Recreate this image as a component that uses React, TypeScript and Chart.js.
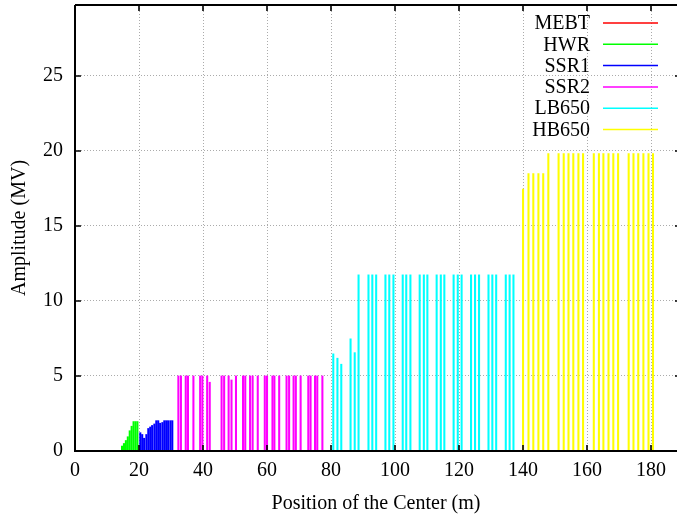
import React, { useEffect, useRef } from 'react';
import { Chart, registerables } from 'chart.js';

Chart.register(...registerables);

// ---- data ----
const seriesNames = ['MEBT', 'HWR', 'SSR1', 'SSR2', 'LB650', 'HB650'];
const seriesColors = ['#ff0000', '#00ff00', '#0000ff', '#ff00ff', '#00ffff', '#ffff00'];

const mebtPos = [1.2, 2.5, 3.8];
const mebtAmp = [0.04, 0.04, 0.04];

const hwrPos = [14.7, 15.3, 15.9, 16.5, 17.1, 17.7, 18.3, 18.9, 19.5];
const hwrAmp = [0.33, 0.5, 0.7, 0.95, 1.35, 1.65, 1.96, 1.96, 1.96];

const ssr1Pos = [20.4, 21.0, 21.6, 22.3, 22.9, 23.5, 24.1, 24.8, 25.4, 26.0, 26.6, 27.3, 27.9, 28.5, 29.1, 29.8, 30.4];
const ssr1Amp = [1.22, 1.1, 0.85, 1.1, 1.5, 1.6, 1.7, 1.8, 2.02, 2.02, 1.85, 1.9, 2.02, 2.02, 2.02, 2.02, 2.02];

const ssr2Pos = [
  32.3, 33.1, 34.6, 35.3, 37.0,
  39.1, 39.8, 41.3, 42.1,
  45.8, 46.6, 48.0, 48.9, 50.3,
  52.5, 53.2, 54.7, 55.5, 57.1,
  59.3, 60.0, 61.7, 62.3, 63.8,
  66.1, 66.9, 68.3, 69.0, 70.5,
  72.9, 73.6, 75.0, 75.7, 77.3,
];
const ssr2Amp = [
  5.0, 5.0, 5.0, 5.0, 5.0,
  5.0, 5.0, 5.0, 4.58,
  5.0, 5.0, 5.0, 4.73, 5.0,
  5.0, 5.0, 5.0, 5.0, 5.0,
  5.0, 5.0, 5.0, 5.0, 5.0,
  5.0, 5.0, 5.0, 5.0, 5.0,
  5.0, 5.0, 5.0, 5.0, 5.0,
];

const lb650Pos = [
  80.7, 82.0, 83.2, 86.1, 87.4, 88.6, 91.7, 92.9, 94.1, 97.0, 98.2, 99.5,
  102.4, 103.5, 104.8, 107.7, 109.0, 110.1, 113.0, 114.3, 115.4, 118.3, 119.6, 120.8,
  123.75, 125.0, 126.25, 129.2, 130.4, 131.6, 134.6, 135.8, 137.0,
];
const lb650Amp = [
  6.47, 6.18, 5.78, 7.47, 6.55, 11.73, 11.73, 11.73, 11.73, 11.73, 11.73, 11.73,
  11.73, 11.73, 11.73, 11.73, 11.73, 11.73, 11.73, 11.73, 11.73, 11.73, 11.73, 11.73,
  11.73, 11.73, 11.73, 11.73, 11.73, 11.73, 11.73, 11.73, 11.73,
];

const hb650Pos = [
  140.0, 141.7, 143.2, 144.8, 146.3, 147.9,
  151.1, 152.7, 154.2, 155.7, 157.3, 158.75,
  162.1, 163.7, 165.1, 166.7, 168.2, 169.7,
  173.0, 174.5, 176.0, 177.6, 179.2, 180.6,
];
const hb650Amp = [
  17.45, 18.47, 18.47, 18.47, 18.47, 19.8,
  19.8, 19.8, 19.8, 19.8, 19.8, 19.8,
  19.8, 19.8, 19.8, 19.8, 19.8, 19.8,
  19.8, 19.8, 19.8, 19.8, 19.8, 19.8,
];

const xTicks = [0, 20, 40, 60, 80, 100, 120, 140, 160, 180];
const yTicks = [0, 5, 10, 15, 20, 25];
const xMin = 0;
const xMax = 188.1;
const yMin = 0;
const yMax = 29.7;

const xTitle = 'Position of the Center (m)';
const yTitle = 'Amplitude (MV)';

const allPos = [mebtPos, hwrPos, ssr1Pos, ssr2Pos, lb650Pos, hb650Pos];
const allAmp = [mebtAmp, hwrAmp, ssr1Amp, ssr2Amp, lb650Amp, hb650Amp];

const FONT = "'Liberation Serif', 'DejaVu Serif', serif";

const framePlugin = {
  id: 'gnuFrame',
  afterDatasetsDraw(chart: any) {
    const { ctx, chartArea, scales } = chart;
    const { left, right, top, bottom } = chartArea;
    const x = scales.x;
    const y = scales.y;
    ctx.save();
    ctx.strokeStyle = '#000';
    ctx.lineWidth = 2;
    ctx.beginPath();
    ctx.moveTo(left, top);
    ctx.lineTo(right + 2, top);
    ctx.moveTo(left, top);
    ctx.lineTo(left, bottom);
    ctx.lineTo(right + 2, bottom);
    ctx.stroke();
    ctx.lineWidth = 1.6;
    ctx.beginPath();
    for (const v of xTicks) {
      const px = Math.round(x.getPixelForValue(v));
      ctx.moveTo(px, bottom);
      ctx.lineTo(px, bottom - 6);
      ctx.moveTo(px, top);
      ctx.lineTo(px, top + 6);
    }
    for (const v of yTicks) {
      const py = Math.round(y.getPixelForValue(v));
      ctx.moveTo(left, py);
      ctx.lineTo(left + 6, py);
      ctx.moveTo(right, py);
      ctx.lineTo(right - 2, py);
    }
    ctx.stroke();
    ctx.restore();
  },
  afterDraw(chart: any) {
    const { ctx, chartArea } = chart;
    const textRight = chartArea.right - 87;
    const lineStart = chartArea.right - 74;
    const lineEnd = chartArea.right - 19;
    const y0 = chartArea.top + 18;
    const step = 21.3;
    ctx.save();
    ctx.font = `20px ${FONT}`;
    ctx.textAlign = 'right';
    ctx.textBaseline = 'middle';
    chart.data.datasets.forEach((ds: any, i: number) => {
      const yy = y0 + i * step;
      ctx.fillStyle = '#000';
      ctx.fillText(ds.label, textRight, yy + 1);
      ctx.strokeStyle = ds.backgroundColor;
      ctx.lineWidth = 1.5;
      ctx.beginPath();
      ctx.moveTo(lineStart, yy);
      ctx.lineTo(lineEnd, yy);
      ctx.stroke();
    });
    ctx.restore();
  },
};

export default function App() {
  const canvasRef = useRef<HTMLCanvasElement | null>(null);

  useEffect(() => {
    document.body.style.margin = '0';
    const canvas = canvasRef.current;
    if (!canvas) return;
    Chart.defaults.font.family = FONT;
    Chart.defaults.font.size = 20;
    Chart.defaults.color = '#000';

    const datasets = seriesNames.map((name, i) => ({
      label: name,
      data: allPos[i].map((p, j) => ({ x: p, y: allAmp[i][j] })),
      backgroundColor: seriesColors[i],
      borderWidth: 0,
      barThickness: 1.4,
      grouped: false,
    }));

    const chart = new Chart(canvas, {
      type: 'bar',
      data: { datasets },
      plugins: [framePlugin],
      options: {
        responsive: false,
        animation: false,
        events: [],
        layout: { padding: { top: 5, left: 0, right: 0, bottom: 0 } },
        plugins: {
          legend: { display: false },
          tooltip: { enabled: false },
        },
        scales: {
          x: {
            type: 'linear',
            min: xMin,
            max: xMax,
            offset: false,
            afterBuildTicks: (scale: any) => {
              scale.ticks = xTicks.map((v) => ({ value: v }));
            },
            afterFit: (scale: any) => {
              scale.height = 67;
              scale.paddingLeft = 0;
              scale.paddingRight = 0;
            },
            grid: {
              offset: false,
              color: '#ababab',
              lineWidth: 1,
              drawTicks: false,
            },
            border: { display: false, dash: [1, 2] },
            ticks: {
              padding: 8,
              maxRotation: 0,
              autoSkip: false,
              font: { size: 20, family: FONT },
              color: '#000',
            },
            title: {
              display: true,
              text: xTitle,
              font: { size: 20, family: FONT },
              color: '#000',
              padding: { top: 0, bottom: 2 },
            },
          },
          y: {
            type: 'linear',
            min: yMin,
            max: yMax,
            afterBuildTicks: (scale: any) => {
              scale.ticks = yTicks.map((v) => ({ value: v }));
            },
            afterFit: (scale: any) => {
              scale.width = 75;
              scale.paddingTop = 0;
              scale.paddingBottom = 0;
            },
            grid: {
              color: '#ababab',
              lineWidth: 1,
              drawTicks: false,
            },
            border: { display: false, dash: [1, 2] },
            ticks: {
              padding: 12,
              font: { size: 20, family: FONT },
              color: '#000',
            },
            title: {
              display: true,
              text: yTitle,
              font: { size: 20, family: FONT },
              color: '#000',
              padding: { top: 8, bottom: 0 },
            },
          },
        },
      },
    } as any);

    return () => {
      chart.destroy();
    };
  }, []);

  return (
    <div style={{ width: 677, height: 518 }}>
      <canvas ref={canvasRef} width={677} height={518} style={{ display: 'block' }} />
    </div>
  );
}
